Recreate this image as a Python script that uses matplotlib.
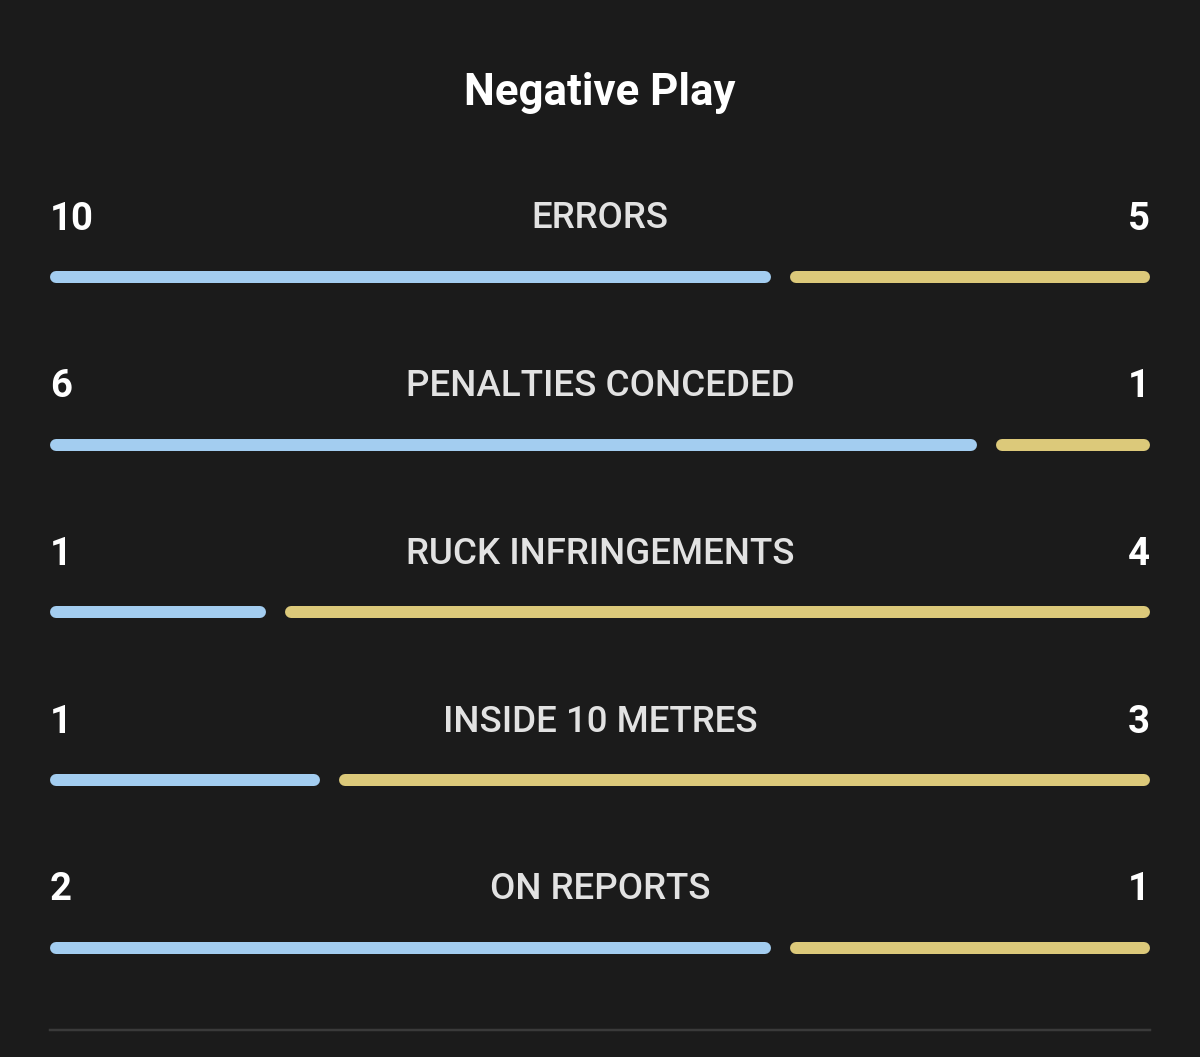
import matplotlib.pyplot as plt

# Datos
categorias = ['ERRORS', 'PENALTIES CONCEDED', 'RUCK INFRINGEMENTS', 'INSIDE 10 METRES', 'ON REPORTS']
local = [10, 6, 1, 1, 2]
visita = [5, 1, 4, 3, 1]

fondo = '#1b1b1b'
azul = '#a3cdf0'
oro = '#dcc97a'

W, H = 1200, 1057
fig = plt.figure(figsize=(W / 100, H / 100), dpi=100, facecolor=fondo)
ax = fig.add_axes([0, 0, 1, 1])
ax.set_facecolor(fondo)
ax.set_xlim(0, W)
ax.set_ylim(H, 0)
ax.axis('off')

# Título
ax.text(600, 93, 'Negative Play', color='white', fontsize=31.5, fontweight='bold',
        family='Roboto', ha='center', va='center')

x0, x1 = 50, 1150
hueco = 19
lw = 12 * 0.72  # 12 px en puntos
r = 6

for i, (cat, a, b) in enumerate(zip(categorias, local, visita)):
    y_txt = 219 + i * 167.7
    y_bar = 277 + i * 167.7
    ax.text(x0, y_txt, str(a), color='white', fontsize=27.5, fontweight='bold',
            family='Roboto', ha='left', va='center')
    ax.text(x1, y_txt, str(b), color='white', fontsize=27.5, fontweight='bold',
            family='Roboto', ha='right', va='center')
    ax.text(600, y_txt, cat, color='#e2e2e2', fontsize=26.5, fontweight='medium',
            family='Roboto', ha='center', va='center')

    ancho = (x1 - x0 - hueco)
    xa = x0 + ancho * a / (a + b)
    ax.plot([x0 + r, xa - r], [y_bar, y_bar], color=azul, lw=lw, solid_capstyle='round')
    ax.plot([xa + hueco + r, x1 - r], [y_bar, y_bar], color=oro, lw=lw, solid_capstyle='round')

# Línea inferior
ax.plot([x0, x1], [1030, 1030], color='#3a3a3a', lw=2.5 * 0.72)

fig.savefig('out.png', dpi=100, facecolor=fondo)
